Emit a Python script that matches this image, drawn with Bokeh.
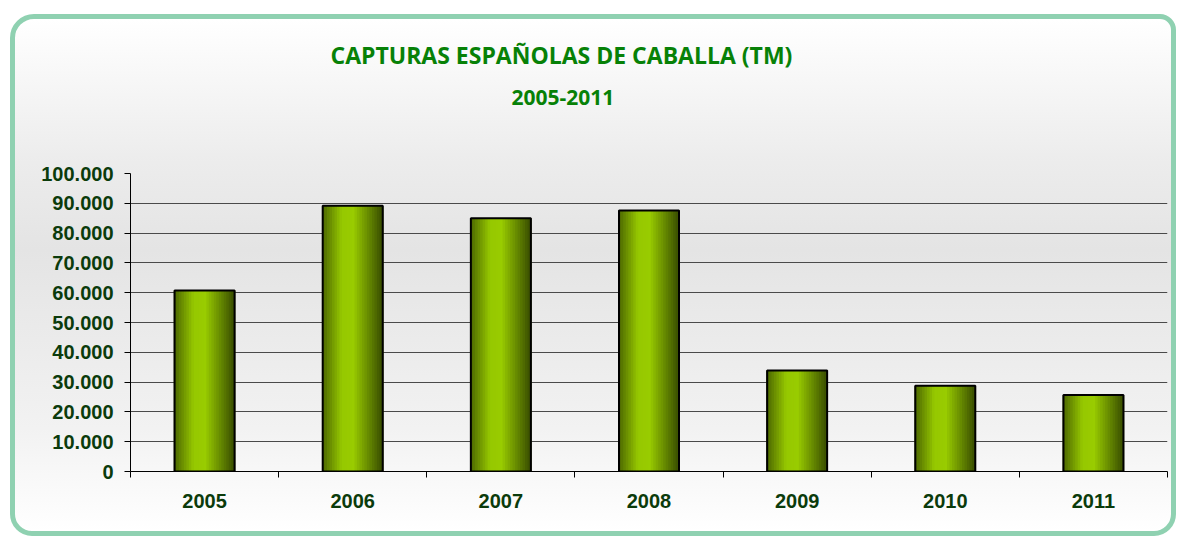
from bokeh.plotting import figure
from bokeh.models import ColumnDataSource, FixedTicker, Title
from bokeh.transform import dodge
from bokeh.embed import file_html
from bokeh.resources import INLINE

# ---- data ----
years = ["2005", "2006", "2007", "2008", "2009", "2010", "2011"]
capturas = [60700, 89200, 85000, 87600, 33900, 28800, 25700]
y_ticks = [0, 10000, 20000, 30000, 40000, 50000, 60000, 70000, 80000, 90000, 100000]
title_text = "CAPTURAS ESPAÑOLAS DE CABALLA (TM)"
subtitle_text = "2005-2011"

xc = [i + 0.5 for i in range(len(years))]
src = ColumnDataSource(dict(x=xc, top=capturas, year=years))

p = figure(width=1156, height=512, output_backend="svg", toolbar_location=None,
           x_range=(0, len(years)), y_range=(0, 100000), title=None,
           min_border_left=115, min_border_right=14, min_border_top=150, min_border_bottom=70)
p.background_fill_alpha = 0
p.border_fill_alpha = 0
p.outline_line_color = None
p.styles = {
    "box-sizing": "content-box",
    "margin-left": "10px",
    "margin-top": "14px",
    "border": "5px solid #8fd1b1",
    "border-radius": "24px 16px 22px 22px",
    "overflow": "hidden",
    "background": "linear-gradient(to bottom, #ffffff 0%, #ececec 28%, #e4e4e4 45%, #f2f2f2 80%, #ffffff 100%)",
}

# ---- bars with horizontal gradient (strips) ----
def hex2rgb(h):
    h = h.lstrip("#")
    return [int(h[i:i + 2], 16) for i in (0, 2, 4)]

stops = [(0.0, "#4a6400"), (0.33, "#96c800"), (0.52, "#99cc00"), (1.0, "#3a4f00")]

def grad(t):
    for (t0, c0), (t1, c1) in zip(stops[:-1], stops[1:]):
        if t0 <= t <= t1:
            a, b = hex2rgb(c0), hex2rgb(c1)
            f = (t - t0) / (t1 - t0)
            return "#%02x%02x%02x" % tuple(int(round(a[k] + (b[k] - a[k]) * f)) for k in range(3))
    return stops[-1][1]

bw = 0.405
N = 24
sw = bw / N
for k in range(N):
    off = -bw / 2 + (k + 0.5) * sw
    p.vbar(x=dodge("x", off), top="top", width=sw * 1.6, bottom=0, source=src,
           fill_color=grad((k + 0.5) / N), line_color=None)
p.vbar(x="x", top="top", width=bw, bottom=0, source=src,
       fill_alpha=0, line_color="#000000", line_width=2)

# ---- axes ----
lab_col = "#0b3b0b"
xa = p.xaxis[0]
xa.ticker = FixedTicker(ticks=xc, minor_ticks=list(range(len(years) + 1)))
xa.major_label_overrides = {x: y for x, y in zip(xc, years)}
xa.major_tick_out = 0
xa.major_tick_in = 0
xa.minor_tick_out = 6
xa.minor_tick_in = 0
xa.minor_tick_line_color = "#000000"
xa.axis_line_color = "#000000"
xa.major_label_text_font = "Liberation Sans"
xa.major_label_text_font_style = "bold"
xa.major_label_text_font_size = "20px"
xa.major_label_text_color = lab_col
xa.major_label_standoff = 16

ya = p.yaxis[0]
ya.ticker = FixedTicker(ticks=y_ticks, minor_ticks=[])
ya.major_label_overrides = {v: f"{v:,}".replace(",", ".") for v in y_ticks}
ya.major_tick_out = 6
ya.major_tick_in = 0
ya.major_tick_line_color = "#000000"
ya.axis_line_color = "#000000"
ya.major_label_text_font = "Liberation Sans"
ya.major_label_text_font_style = "bold"
ya.major_label_text_font_size = "20px"
ya.major_label_text_color = lab_col
ya.major_label_standoff = 11

p.xgrid.grid_line_color = None
p.ygrid.grid_line_color = "#4a4a4a"
p.ygrid.grid_line_width = 1

# ---- titles ----
p.add_layout(Title(text=subtitle_text, align="left", offset=381, standoff=137,
                   text_font="Open Sans", text_font_style="bold",
                   text_font_size="21px", text_color="#078107"), "above")
p.add_layout(Title(text=title_text, align="left", offset=200, standoff=-103,
                   text_font="Open Sans", text_font_style="bold",
                   text_font_size="23px", text_color="#078107"), "above")

open("out.html", "w").write(file_html(p, INLINE))
